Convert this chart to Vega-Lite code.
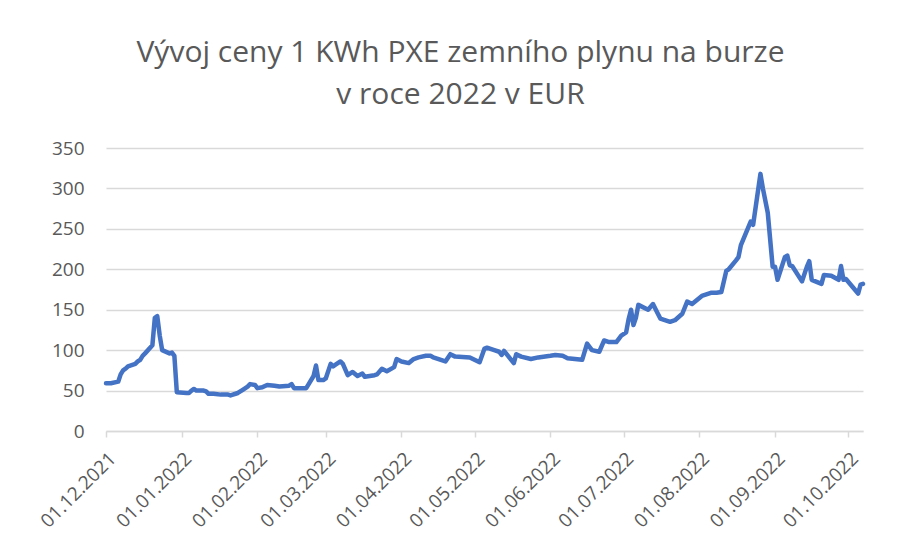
{
  "$schema": "https://vega.github.io/schema/vega-lite/v6.json",
  "width": 757,
  "height": 283,
  "autosize": {"type": "none"},
  "padding": {"left": 106, "top": 148, "right": 35, "bottom": 115},
  "background": "white",
  "config": {"view": {"stroke": null}, "font": "Open Sans"},
  "title": {
    "text": ["Vývoj ceny 1 KWh PXE zemního plynu na burze", "v roce 2022 v EUR"],
    "font": "Open Sans",
    "fontSize": 30,
    "fontWeight": "normal",
    "color": "#595959",
    "anchor": "middle",
    "dx": -24,
    "offset": 29,
    "lineHeight": 42
  },
  "data": {
    "values": [
      {"date": "2021-12-01", "price": 59},
      {"date": "2021-12-03", "price": 59},
      {"date": "2021-12-06", "price": 61},
      {"date": "2021-12-07", "price": 70},
      {"date": "2021-12-08", "price": 75},
      {"date": "2021-12-09", "price": 77},
      {"date": "2021-12-10", "price": 80},
      {"date": "2021-12-13", "price": 83},
      {"date": "2021-12-14", "price": 86},
      {"date": "2021-12-15", "price": 88},
      {"date": "2021-12-16", "price": 93},
      {"date": "2021-12-17", "price": 96},
      {"date": "2021-12-20", "price": 106},
      {"date": "2021-12-21", "price": 140},
      {"date": "2021-12-22", "price": 142},
      {"date": "2021-12-23", "price": 118},
      {"date": "2021-12-24", "price": 100},
      {"date": "2021-12-27", "price": 96},
      {"date": "2021-12-28", "price": 97},
      {"date": "2021-12-29", "price": 93},
      {"date": "2021-12-30", "price": 48},
      {"date": "2022-01-03", "price": 47},
      {"date": "2022-01-04", "price": 47},
      {"date": "2022-01-05", "price": 50},
      {"date": "2022-01-06", "price": 52},
      {"date": "2022-01-07", "price": 50},
      {"date": "2022-01-10", "price": 50},
      {"date": "2022-01-11", "price": 49},
      {"date": "2022-01-12", "price": 46},
      {"date": "2022-01-14", "price": 46},
      {"date": "2022-01-17", "price": 45},
      {"date": "2022-01-20", "price": 45},
      {"date": "2022-01-21", "price": 44},
      {"date": "2022-01-24", "price": 47},
      {"date": "2022-01-26", "price": 51},
      {"date": "2022-01-28", "price": 55},
      {"date": "2022-01-29", "price": 58},
      {"date": "2022-01-31", "price": 57},
      {"date": "2022-02-01", "price": 53},
      {"date": "2022-02-03", "price": 54},
      {"date": "2022-02-05", "price": 57},
      {"date": "2022-02-08", "price": 56},
      {"date": "2022-02-10", "price": 55},
      {"date": "2022-02-14", "price": 56},
      {"date": "2022-02-15", "price": 58},
      {"date": "2022-02-16", "price": 53},
      {"date": "2022-02-18", "price": 53},
      {"date": "2022-02-21", "price": 53},
      {"date": "2022-02-22", "price": 58},
      {"date": "2022-02-24", "price": 68},
      {"date": "2022-02-25", "price": 81},
      {"date": "2022-02-26", "price": 63},
      {"date": "2022-02-28", "price": 63},
      {"date": "2022-03-01", "price": 65},
      {"date": "2022-03-03", "price": 83},
      {"date": "2022-03-04", "price": 80},
      {"date": "2022-03-05", "price": 82},
      {"date": "2022-03-07", "price": 86},
      {"date": "2022-03-08", "price": 83},
      {"date": "2022-03-10", "price": 69},
      {"date": "2022-03-12", "price": 73},
      {"date": "2022-03-14", "price": 68},
      {"date": "2022-03-16", "price": 71},
      {"date": "2022-03-17", "price": 67},
      {"date": "2022-03-21", "price": 69},
      {"date": "2022-03-22", "price": 70},
      {"date": "2022-03-24", "price": 77},
      {"date": "2022-03-26", "price": 74},
      {"date": "2022-03-29", "price": 79},
      {"date": "2022-03-30", "price": 89},
      {"date": "2022-04-01", "price": 86},
      {"date": "2022-04-04", "price": 84},
      {"date": "2022-04-06", "price": 89},
      {"date": "2022-04-08", "price": 91},
      {"date": "2022-04-11", "price": 93},
      {"date": "2022-04-13", "price": 93},
      {"date": "2022-04-14", "price": 91},
      {"date": "2022-04-19", "price": 86},
      {"date": "2022-04-21", "price": 95},
      {"date": "2022-04-23", "price": 92},
      {"date": "2022-04-29", "price": 91},
      {"date": "2022-05-03", "price": 85},
      {"date": "2022-05-05", "price": 102},
      {"date": "2022-05-06", "price": 103},
      {"date": "2022-05-09", "price": 100},
      {"date": "2022-05-11", "price": 98},
      {"date": "2022-05-12", "price": 94},
      {"date": "2022-05-13", "price": 99},
      {"date": "2022-05-17", "price": 84},
      {"date": "2022-05-18", "price": 95},
      {"date": "2022-05-20", "price": 92},
      {"date": "2022-05-24", "price": 89},
      {"date": "2022-05-27", "price": 91},
      {"date": "2022-06-01", "price": 93},
      {"date": "2022-06-03", "price": 94},
      {"date": "2022-06-06", "price": 93},
      {"date": "2022-06-08", "price": 90},
      {"date": "2022-06-14", "price": 88},
      {"date": "2022-06-16", "price": 108},
      {"date": "2022-06-18", "price": 100},
      {"date": "2022-06-21", "price": 98},
      {"date": "2022-06-23", "price": 112},
      {"date": "2022-06-25", "price": 110},
      {"date": "2022-06-28", "price": 110},
      {"date": "2022-06-30", "price": 118},
      {"date": "2022-07-02", "price": 122},
      {"date": "2022-07-03", "price": 138},
      {"date": "2022-07-04", "price": 150},
      {"date": "2022-07-05", "price": 131},
      {"date": "2022-07-06", "price": 140},
      {"date": "2022-07-07", "price": 156},
      {"date": "2022-07-11", "price": 150},
      {"date": "2022-07-13", "price": 157},
      {"date": "2022-07-15", "price": 145},
      {"date": "2022-07-16", "price": 139},
      {"date": "2022-07-20", "price": 135},
      {"date": "2022-07-22", "price": 137},
      {"date": "2022-07-25", "price": 145},
      {"date": "2022-07-27", "price": 160},
      {"date": "2022-07-29", "price": 157},
      {"date": "2022-08-02", "price": 167},
      {"date": "2022-08-06", "price": 171},
      {"date": "2022-08-08", "price": 171},
      {"date": "2022-08-10", "price": 172},
      {"date": "2022-08-12", "price": 198},
      {"date": "2022-08-13", "price": 200},
      {"date": "2022-08-16", "price": 211},
      {"date": "2022-08-17", "price": 215},
      {"date": "2022-08-18", "price": 230},
      {"date": "2022-08-22", "price": 259},
      {"date": "2022-08-23", "price": 255},
      {"date": "2022-08-26", "price": 318},
      {"date": "2022-08-27", "price": 300},
      {"date": "2022-08-29", "price": 270},
      {"date": "2022-08-31", "price": 203},
      {"date": "2022-09-01", "price": 203},
      {"date": "2022-09-02", "price": 187},
      {"date": "2022-09-05", "price": 215},
      {"date": "2022-09-06", "price": 217},
      {"date": "2022-09-07", "price": 205},
      {"date": "2022-09-08", "price": 204},
      {"date": "2022-09-12", "price": 185},
      {"date": "2022-09-14", "price": 203},
      {"date": "2022-09-15", "price": 210},
      {"date": "2022-09-16", "price": 187},
      {"date": "2022-09-20", "price": 182},
      {"date": "2022-09-21", "price": 193},
      {"date": "2022-09-24", "price": 192},
      {"date": "2022-09-27", "price": 187},
      {"date": "2022-09-28", "price": 204},
      {"date": "2022-09-29", "price": 187},
      {"date": "2022-09-30", "price": 188},
      {"date": "2022-10-05", "price": 170},
      {"date": "2022-10-06", "price": 181},
      {"date": "2022-10-07", "price": 182}
    ]
  },
  "mark": {"type": "line", "color": "#4472C4", "strokeWidth": 4.5, "strokeJoin": "round", "strokeCap": "round"},
  "encoding": {
    "x": {
      "field": "date",
      "type": "temporal",
      "title": null,
      "scale": {
        "type": "utc",
        "domain": [
          {"year": 2021, "month": 12, "date": 1, "utc": true},
          {"year": 2022, "month": 10, "date": 7, "utc": true}
        ]
      },
      "axis": {
        "values": [
          {"year": 2021, "month": 12, "date": 1, "utc": true},
          {"year": 2022, "month": 1, "date": 1, "utc": true},
          {"year": 2022, "month": 2, "date": 1, "utc": true},
          {"year": 2022, "month": 3, "date": 1, "utc": true},
          {"year": 2022, "month": 4, "date": 1, "utc": true},
          {"year": 2022, "month": 5, "date": 1, "utc": true},
          {"year": 2022, "month": 6, "date": 1, "utc": true},
          {"year": 2022, "month": 7, "date": 1, "utc": true},
          {"year": 2022, "month": 8, "date": 1, "utc": true},
          {"year": 2022, "month": 9, "date": 1, "utc": true},
          {"year": 2022, "month": 10, "date": 1, "utc": true}
        ],
        "format": "%d.%m.%Y",
        "labelAngle": -45,
        "labelAlign": "right",
        "labelBaseline": "top",
        "labelFontSize": 19,
        "labelFont": "Open Sans",
        "labelColor": "#595959",
        "labelPadding": 12,
        "labelDx": 3,
        "labelFlush": false,
        "labelOverlap": false,
        "grid": false,
        "domainColor": "#d9d9d9",
        "domainWidth": 1.5,
        "tickColor": "#d9d9d9",
        "tickWidth": 1.5,
        "tickSize": 6
      }
    },
    "y": {
      "field": "price",
      "type": "quantitative",
      "title": null,
      "scale": {"domain": [0, 350], "nice": false},
      "axis": {
        "values": [0, 50, 100, 150, 200, 250, 300, 350],
        "domain": false,
        "ticks": false,
        "tickSize": 0,
        "labelPadding": 22,
        "labelFontSize": 19,
        "labelFont": "Open Sans",
        "labelColor": "#595959",
        "gridColor": "#d9d9d9",
        "gridWidth": 1.5
      }
    }
  }
}
